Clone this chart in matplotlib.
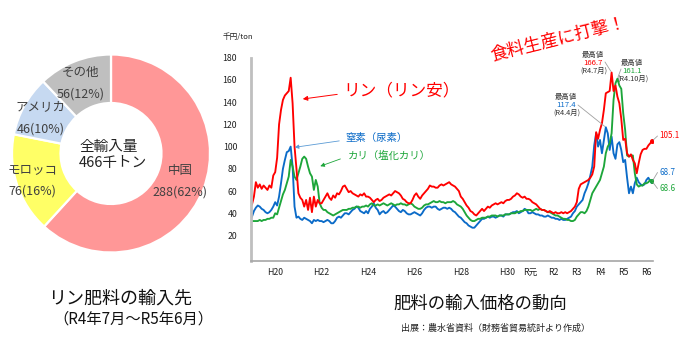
import numpy as np
import matplotlib
matplotlib.use("Agg")
import matplotlib.pyplot as plt

plt.rcParams['font.family'] = ['Noto Sans CJK JP', 'DejaVu Sans']

# リン肥料の輸入先（R4年7月～R5年6月、千トン）
origin_names = ['中国', 'モロッコ', 'アメリカ', 'その他']
origin_tons = [288, 76, 46, 56]
origin_share = [62, 16, 10, 12]
origin_colors = ['#FF9797', '#FFFF66', '#C6D9F1', '#BFBFBF']
total_tons = 466

# 肥料の輸入価格（千円/ton、2007年1月～2024年4月の月次）
start_year = 2007
phosphate = [
    48, 55, 68, 63, 66, 62, 65, 63, 61, 65, 63, 74,
    77, 90, 120, 133, 142, 146, 148, 150, 162, 139, 100, 80,
    58, 54, 52, 46, 52, 43, 54, 41, 55, 46, 52, 49,
    49, 52, 55, 58, 54, 52, 56, 54, 58, 57, 60, 64,
    65, 62, 59, 60, 58, 57, 56, 55, 57, 56, 58, 55,
    55, 54, 52, 50, 52, 53, 51, 52, 54, 55, 56, 57,
    56, 58, 60, 59, 58, 56, 53, 52, 50, 49, 49, 52,
    56, 58, 55, 53, 56, 58, 60, 62, 65, 64, 64, 63,
    63, 65, 66, 65, 66, 67, 68, 66, 65, 64, 62, 60,
    55, 53, 50, 47, 45, 42, 41, 39, 38, 40, 42, 44,
    42, 44, 46, 45, 47, 48, 49, 48, 49, 50, 49, 51,
    52, 52, 53, 55, 56, 58, 57, 55, 54, 55, 53, 53,
    52, 50, 49, 48, 46, 44, 43, 43, 42, 41, 42, 41,
    40, 41, 40, 40, 41, 40, 41, 40, 41, 42, 44, 46,
    50, 62, 66, 67, 68, 69, 70, 72, 75, 82, 113, 107,
    115, 121, 133, 148, 149, 150, 166.7, 150, 155, 145, 139, 125,
    106, 107, 94, 91, 93, 88, 85, 76, 85, 93, 97, 98,
    98, 101, 103, 105.1,
]
urea = [
    37, 42, 45, 47, 46, 44, 43, 41, 40, 41, 43, 46,
    50, 47, 55, 67, 80, 88, 95, 96, 100, 82, 46, 36,
    37, 35, 34, 36, 35, 34, 33, 31, 34, 33, 34, 33,
    33, 32, 33, 34, 33, 31, 31, 33, 36, 37, 36, 38,
    40, 40, 39, 41, 43, 44, 46, 45, 42, 41, 40, 42,
    40, 44, 46, 49, 45, 43, 39, 41, 42, 40, 41, 43,
    45, 47, 46, 44, 42, 41, 43, 42, 40, 39, 39, 40,
    41, 40, 39, 38, 40, 43, 45, 46, 46, 45, 46, 46,
    44, 43, 44, 45, 45, 44, 45, 44, 42, 41, 39, 37,
    36, 34, 32, 31, 29, 28, 27, 27, 29, 31, 33, 35,
    35, 36, 37, 36, 37, 37, 36, 37, 38, 38, 37, 39,
    39, 39, 40, 41, 41, 42, 40, 41, 42, 44, 43, 40,
    40, 41, 40, 39, 39, 38, 38, 37, 37, 38, 37, 36,
    36, 35, 35, 34, 35, 34, 34, 35, 36, 37, 40, 42,
    46, 48, 50, 52, 58, 62, 67, 74, 82, 101, 112, 100,
    106, 94, 106, 117.4, 112, 97, 109, 94, 89, 102, 104, 97,
    86, 88, 72, 58, 64, 58, 67, 72, 68, 66, 65, 66,
    70, 72, 69, 68.7,
]
potash = [
    33, 33, 33, 33, 34, 33, 34, 34, 35, 35, 36, 36,
    40, 39, 45, 51, 57, 61, 67, 73, 88, 82, 73, 70,
    76, 82, 89, 91, 89, 82, 76, 73, 61, 70, 64, 49,
    45, 43, 43, 41, 40, 39, 38, 39, 40, 41, 42, 43,
    43, 43, 44, 44, 45, 45, 46, 46, 45, 46, 46, 47,
    46, 48, 49, 47, 47, 48, 47, 48, 49, 48, 47, 48,
    49, 48, 47, 48, 48, 49, 48, 48, 47, 48, 49, 48,
    46, 45, 44, 44, 45, 47, 48, 48, 49, 50, 51, 50,
    50, 51, 50, 50, 49, 50, 50, 50, 51, 50, 48, 47,
    46, 44, 41, 38, 36, 34, 33, 33, 34, 35, 35, 36,
    36, 36, 37, 37, 38, 38, 38, 37, 38, 38, 38, 39,
    39, 39, 40, 40, 40, 41, 41, 42, 42, 43, 43, 43,
    43, 42, 43, 44, 43, 44, 43, 43, 42, 41, 41, 40,
    39, 38, 38, 37, 36, 35, 35, 34, 34, 33, 33, 34,
    37, 39, 41, 41, 40, 42, 46, 52, 58, 61, 64, 67,
    70, 76, 82, 94, 100, 103, 112, 142, 157, 161.1, 155, 152,
    130, 115, 92, 91, 92, 92, 76, 66, 64, 65, 65, 67,
    67, 68, 70, 68.6,
]

tick_years = [2008, 2010, 2012, 2014, 2016, 2018, 2019, 2020, 2021, 2022, 2023, 2024]
tick_labels = ['H20', 'H22', 'H24', 'H26', 'H28', 'H30', 'R元', 'R2', 'R3', 'R4', 'R5', 'R6']
y_ticks = [20, 40, 60, 80, 100, 120, 140, 160, 180]

# 最高値の注記（系列、年月ラベル）
peak_notes = [('phosphate', 'R4.7月'), ('potash', 'R4.10月'), ('urea', 'R4.4月')]

RED = '#FF0000'
BLUE = '#0B6BC8'
GREEN = '#1DA63A'
TXT = '#333333'

W, H = 680, 340
fig = plt.figure(figsize=(W / 100, H / 100), dpi=100)


def fpos(px, py):
    return (px / W, 1 - py / H)


# ---------------- ドーナツグラフ ----------------
pie_ax = fig.add_axes([12 / W, 1 - 252.5 / H, 198 / W, 198 / H])
pie_ax.pie(origin_tons, colors=origin_colors, startangle=90, counterclock=False,
           radius=1.0, wedgeprops=dict(width=0.49, edgecolor='white', linewidth=1.6))
pie_ax.set_xlim(-1, 1)
pie_ax.set_ylim(-1, 1)
pie_ax.set_aspect('equal')
pie_ax.axis('off')

label_pos = [(0.70, -0.28), (-0.79, -0.27), (-0.71, 0.36), (-0.305, 0.71)]
for name, tons, share, (lx, ly) in zip(origin_names, origin_tons, origin_share, label_pos):
    pie_ax.text(lx, ly + 0.11, name, ha='center', va='center', fontsize=9, color='#404040')
    pie_ax.text(lx, ly - 0.11, f'{tons}({share}%)', ha='center', va='center',
                fontsize=9, color='#404040')
pie_ax.text(-0.02, 0.07, '全輸入量', ha='center', va='center', fontsize=10.5, color='#222222')
pie_ax.text(0.02, -0.10, f'{total_tons}千トン', ha='center', va='center',
            fontsize=10.5, color='#222222')

fig.text(*fpos(120, 299), 'リン肥料の輸入先', ha='center', va='center', fontsize=13, color='#111111')
fig.text(*fpos(133, 319), '（R4年7月～R5年6月）', ha='center', va='center', fontsize=11,
         color='#111111')

# ---------------- 価格推移 ----------------
ax = fig.add_axes([251 / W, 1 - 260.5 / H, (653 - 251) / W, (260.5 - 57.7) / H])
x = start_year + np.arange(len(phosphate)) / 12.0
series = {
    'urea': (np.array(urea), BLUE),
    'potash': (np.array(potash), GREEN),
    'phosphate': (np.array(phosphate), RED),
}
for key in ['urea', 'potash', 'phosphate']:
    vals, col = series[key]
    ax.plot(x, vals, color=col, lw=1.35, solid_joinstyle='round')
    ax.plot(x[-1], vals[-1], 'o', color=col, ms=2.6)

ax.set_xlim(start_year - 0.043, 2024.284)
ax.set_ylim(-2.5, 180)
ax.set_yticks(y_ticks)
ax.set_yticklabels([str(v) for v in y_ticks])
ax.set_xticks(tick_years)
ax.set_xticklabels(tick_labels)
ax.tick_params(axis='y', length=0, pad=10, labelsize=6.3, labelcolor='#222222')
ax.tick_params(axis='x', length=0, pad=5.5, labelsize=6.3, labelcolor='#222222')
for s in ['top', 'right']:
    ax.spines[s].set_visible(False)
ax.spines['left'].set_color('#BFBFBF')
ax.spines['left'].set_linewidth(2.0)
ax.spines['bottom'].set_color('#A6A6A6')
ax.spines['bottom'].set_linewidth(1.2)
ax.patch.set_visible(False)

fig.text(*fpos(238, 37), '千円/ton', ha='center', va='center', fontsize=5.5, color='#222222')

# 系列名と矢印
fig.text(*fpos(343, 91), 'リン（リン安）', ha='left', va='center', fontsize=12, color=RED)
ax.annotate('', xy=(2009.07, 142.5), xycoords='data', xytext=fpos(340, 94),
            textcoords='figure fraction',
            arrowprops=dict(arrowstyle='-|>', color=RED, lw=0.7, mutation_scale=7))
fig.text(*fpos(345, 138), '窒素（尿素）', ha='left', va='center', fontsize=7.5, color=BLUE)
ax.annotate('', xy=(2008.72, 99), xycoords='data', xytext=fpos(342, 140.5),
            textcoords='figure fraction',
            arrowprops=dict(arrowstyle='-|>', color='#5B9BD5', lw=0.6, mutation_scale=6))
fig.text(*fpos(348, 156), 'カリ（塩化カリ）', ha='left', va='center', fontsize=7.5, color=GREEN)
ax.annotate('', xy=(2009.83, 81.5), xycoords='data', xytext=fpos(343, 158),
            textcoords='figure fraction',
            arrowprops=dict(arrowstyle='-|>', color=GREEN, lw=0.6, mutation_scale=6))

# 最高値
note_layout = {
    'phosphate': dict(cx=593, top=55, lead=(605, 62)),
    'potash': dict(cx=632, top=63, lead=(621, 69)),
    'urea': dict(cx=566, top=97, lead=(578, 105)),
}
for key, ym in peak_notes:
    vals, col = series[key]
    i = int(np.argmax(vals))
    lay = note_layout[key]
    cx, top = lay['cx'], lay['top']
    fig.text(*fpos(cx, top), '最高値', ha='center', va='center', fontsize=5.3, color='#333333')
    fig.text(*fpos(cx, top + 8), f'{vals[i]:.1f}', ha='center', va='center', fontsize=5.6,
             color=col)
    fig.text(*fpos(cx + 1, top + 15.5), f'({ym})', ha='center', va='center', fontsize=5.3,
             color='#333333')
    ax.annotate('', xy=(x[i], vals[i]), xycoords='data', xytext=fpos(*lay['lead']),
                textcoords='figure fraction',
                arrowprops=dict(arrowstyle='-', color='#A0A0A0', lw=0.6,
                                shrinkA=0, shrinkB=1))

# 最新値
end_layout = [('phosphate', 136), ('urea', 172.5), ('potash', 188.5)]
for key, py in end_layout:
    vals, col = series[key]
    fig.text(*fpos(659, py), f'{vals[-1]:.1f}', ha='left', va='center', fontsize=5.8, color=col)
    ax.annotate('', xy=(x[-1], vals[-1]), xycoords='data', xytext=fpos(657.5, py),
                textcoords='figure fraction',
                arrowprops=dict(arrowstyle='-', color='#A0A0A0', lw=0.6, shrinkA=0, shrinkB=1))

fig.text(*fpos(558, 39), '食料生産に打撃！', ha='center', va='center', fontsize=12.5,
         color=RED, rotation=14)

fig.text(*fpos(480, 304), '肥料の輸入価格の動向', ha='center', va='center', fontsize=12.5,
         color='#111111')
fig.text(*fpos(495, 328), '出展：農水省資料（財務省貿易統計より作成）', ha='center', va='center',
         fontsize=6.5, color='#222222')

fig.savefig('out.png', dpi=100, facecolor='white')
